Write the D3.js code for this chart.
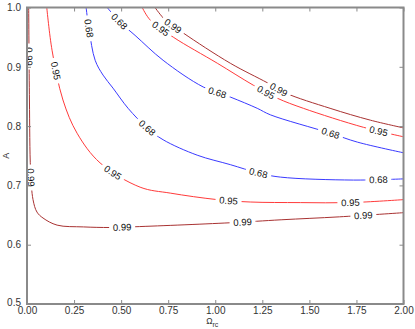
<!DOCTYPE html>
<html>
<head>
<meta charset="utf-8">
<script src="https://cdn.jsdelivr.net/npm/d3@7"></script>
<style>
  body { margin: 0; background: white; }
  text { font-family: "Liberation Sans", Arial, sans-serif; }
</style>
</head>
<body>
<div id="chart"></div>
<script>
// contour lines, [omega, A]
const darkRedLow = [[0.009,1.0],[0.013,0.844],[0.019,0.726],[0.032,0.676],[0.053,0.655],[0.085,0.645],[0.16,0.633],[0.30,0.630],[0.44,0.629],[0.55,0.630],[1.08,0.637],[1.35,0.642],[1.66,0.647],[2.0,0.654]];
const darkRedHigh = [[0.68,1.0],[0.734,0.979],[0.83,0.957],[1.08,0.906],[1.277,0.873],[1.372,0.856],[1.61,0.830],[1.824,0.810],[2.0,0.797]];
const redHigh = [[0.612,1.0],[0.654,0.979],[0.777,0.950],[1.011,0.906],[1.202,0.869],[1.33,0.847],[1.468,0.830],[1.787,0.798],[2.0,0.782]];
const redMid = [[0.105,1.0],[0.133,0.928],[0.191,0.844],[0.266,0.788],[0.388,0.738],[0.601,0.697],[0.761,0.687],[1.011,0.676],[1.186,0.672],[1.452,0.671],[1.718,0.671],[2.0,0.676]];
const blueHigh = [[0.426,1.0],[0.495,0.975],[0.574,0.953],[0.723,0.911],[0.936,0.866],[1.08,0.849],[1.223,0.830],[1.293,0.819],[1.612,0.788],[1.755,0.773],[2.0,0.755]];
const blueMid = [[0.314,1.0],[0.330,0.962],[0.362,0.911],[0.404,0.886],[0.457,0.864],[0.537,0.830],[0.638,0.797],[0.723,0.777],[0.904,0.751],[1.08,0.735],[1.229,0.721],[1.346,0.714],[1.734,0.709],[2.0,0.711]];

// where the level labels sit
const darkRedLowLabels = [[0.008,0.917],[0.021,0.713],[0.505,0.630],[1.144,0.637],[1.787,0.649]];
const darkRedHighLabels = [[0.777,0.970],[1.335,0.861]];
const redHighLabels = [[0.713,0.965],[1.266,0.856],[1.867,0.790]];
const redMidLabels = [[0.165,0.894],[0.452,0.719],[1.069,0.674],[1.718,0.671]];
const blueHighLabels = [[0.484,0.974],[1.011,0.857],[1.612,0.787]];
const blueMidLabels = [[0.324,0.965],[0.638,0.797],[1.229,0.721],[1.867,0.709]];

const xTicks = [0, 0.25, 0.5, 0.75, 1.0, 1.25, 1.5, 1.75, 2.0];
const yTicks = [0.5, 0.6, 0.7, 0.8, 0.9, 1.0];

const contours = [
  {level: "0.99", color: "#a83232", pts: darkRedLow, labels: darkRedLowLabels},
  {level: "0.99", color: "#a83232", pts: darkRedHigh, labels: darkRedHighLabels},
  {level: "0.95", color: "#ff3a3a", pts: redHigh, labels: redHighLabels},
  {level: "0.95", color: "#ff3a3a", pts: redMid, labels: redMidLabels},
  {level: "0.68", color: "#3a3aff", pts: blueHigh, labels: blueHighLabels},
  {level: "0.68", color: "#3a3aff", pts: blueMid, labels: blueMidLabels}
];

const width = 415, height = 329;
const margin = {top: 7.5, right: 11.5, bottom: 25, left: 27};

const x = d3.scaleLinear().domain([0, 2]).range([margin.left, width - margin.right]);
const y = d3.scaleLinear().domain([0.5, 1.0]).range([height - margin.bottom, margin.top]);

const svg = d3.select("#chart").append("svg")
  .attr("width", width)
  .attr("height", height)
  .style("display", "block");

svg.append("defs").append("clipPath").attr("id", "clip")
  .append("rect")
  .attr("x", margin.left).attr("y", margin.top)
  .attr("width", x.range()[1] - margin.left)
  .attr("height", y.range()[0] - margin.top);

const plot = svg.append("g").attr("clip-path", "url(#clip)");

const line = d3.line()
  .x(d => x(d[0]))
  .y(d => y(d[1]))
  .curve(d3.curveCatmullRom.alpha(0.5));

for (const c of contours) {
  const path = plot.append("path")
    .attr("d", line(c.pts))
    .attr("fill", "none")
    .attr("stroke", c.color)
    .attr("stroke-width", 1);

  const node = path.node();
  const total = node.getTotalLength();

  for (const lab of c.labels) {
    const px = x(lab[0]), py = y(lab[1]);
    // nearest point on the curve
    let best = 0, bestD = Infinity;
    for (let s = 0; s <= total; s += 0.5) {
      const p = node.getPointAtLength(s);
      const dd = (p.x - px) ** 2 + (p.y - py) ** 2;
      if (dd < bestD) { bestD = dd; best = s; }
    }
    const p0 = node.getPointAtLength(Math.max(0, best - 4));
    const p1 = node.getPointAtLength(Math.min(total, best + 4));
    const p = node.getPointAtLength(best);
    let ang = Math.atan2(p1.y - p0.y, p1.x - p0.x) * 180 / Math.PI;
    if (ang > 90) ang -= 180;
    if (ang < -90) ang += 180;

    const g = plot.append("g")
      .attr("transform", `translate(${p.x},${p.y}) rotate(${ang})`);
    g.append("rect")
      .attr("x", -13).attr("y", -5)
      .attr("width", 26).attr("height", 10)
      .attr("fill", "white");
    g.append("text")
      .attr("text-anchor", "middle")
      .attr("dy", "0.35em")
      .style("font-size", "9.5px")
      .style("fill", "#111")
      .text(c.level);
  }
}

// frame
const frameColor = "#8a8a8a";
svg.append("rect")
  .attr("x", margin.left).attr("y", margin.top)
  .attr("width", x.range()[1] - margin.left)
  .attr("height", y.range()[0] - margin.top)
  .attr("fill", "none")
  .attr("stroke", frameColor)
  .attr("stroke-width", 2);

// ticks pointing inward on all four sides
const xAxisB = d3.axisBottom(x).tickValues(xTicks).tickSize(-4).tickPadding(3).tickFormat(d3.format(".2f"));
const xAxisT = d3.axisTop(x).tickValues(xTicks).tickSize(-4).tickFormat("");
const yAxisL = d3.axisLeft(y).tickValues(yTicks).tickSize(-4).tickPadding(6).tickFormat(d3.format(".1f"));
const yAxisR = d3.axisRight(y).tickValues(yTicks).tickSize(-4).tickFormat("");

function style(g) {
  g.select(".domain").remove();
  g.selectAll(".tick line").attr("stroke", frameColor).attr("stroke-width", 1);
  g.selectAll(".tick text").attr("fill", "#333").style("font-size", "10px")
    .style("font-family", "'Liberation Sans', Arial, sans-serif");
}

svg.append("g").attr("transform", `translate(0,${y.range()[0]})`).call(xAxisB).call(style);
svg.append("g").attr("transform", `translate(0,${margin.top})`).call(xAxisT).call(style);
const yl = svg.append("g").attr("transform", `translate(${margin.left},0)`).call(yAxisL).call(style);
// lowest y label sits a touch higher so it clears 0.00
yl.selectAll(".tick text").filter(d => d === 0.5).attr("dy", "0.1em");
svg.append("g").attr("transform", `translate(${x.range()[1]},0)`).call(yAxisR).call(style);

// axis titles
const xt = svg.append("text")
  .attr("x", x(1.0) - 3)
  .attr("y", 324)
  .attr("text-anchor", "middle")
  .style("font-size", "8.5px")
  .style("fill", "#333");
xt.append("tspan").text("Ω");
xt.append("tspan").attr("dy", 3).style("font-size", "7px").text("rc");

svg.append("text")
  .attr("transform", `translate(9,${y(0.75)}) rotate(-90)`)
  .attr("text-anchor", "middle")
  .style("font-size", "9px")
  .style("fill", "#333")
  .text("A");
</script>
</body>
</html>
